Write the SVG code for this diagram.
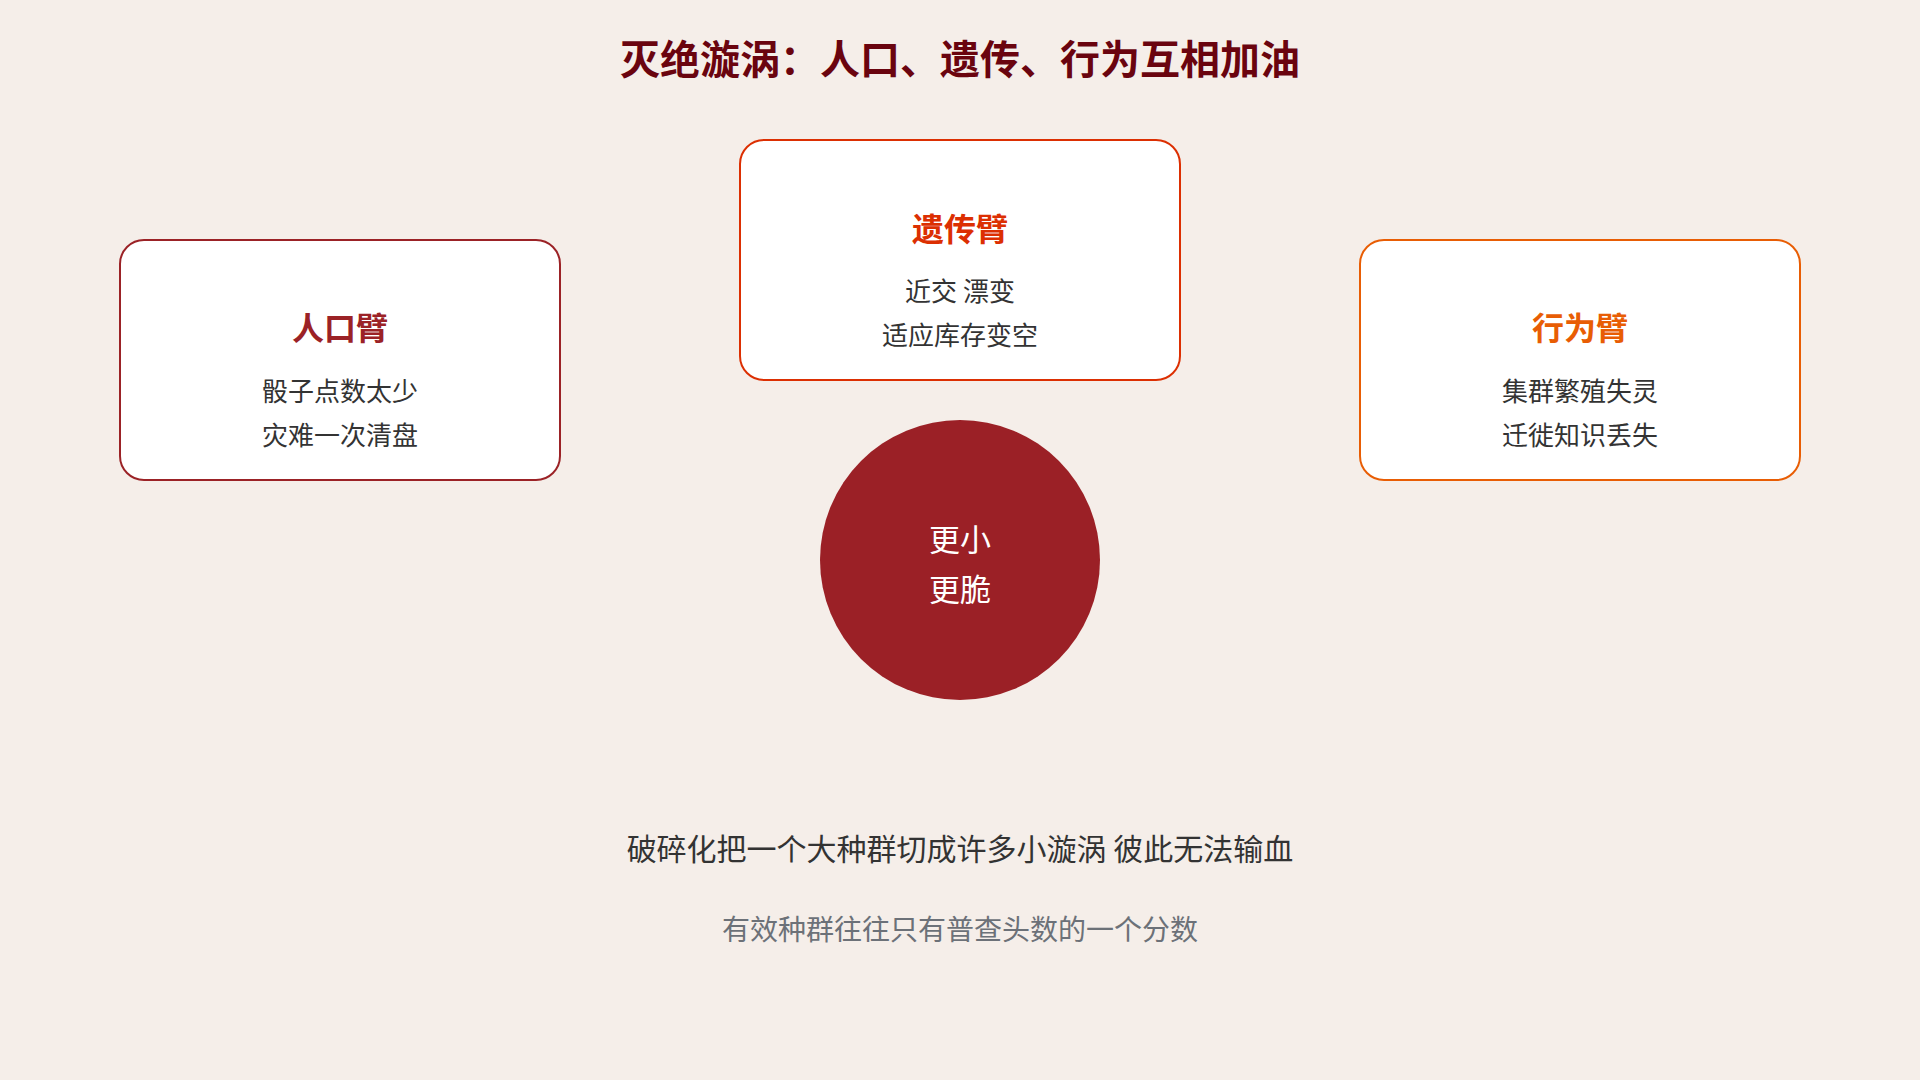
<svg xmlns="http://www.w3.org/2000/svg" width="1920" height="1080" viewBox="0 0 1920 1080">
<style>
text{font-family:"Noto Sans CJK SC","Noto Sans",sans-serif;text-anchor:middle;dominant-baseline:central}
.box{fill:#FFFFFF;stroke-width:2}
.ttl{font-size:32px;font-weight:700}
.body{font-size:26px;fill:#333333}
</style>
<rect x="0" y="0" width="1920" height="1080" fill="#F5EEE9"/>
<text x="960" y="57" style="font-size:40px;font-weight:700;fill:#6A040F">灭绝漩涡：人口、遗传、行为互相加油</text>
<g id="connectors"/>
<g id="node-population">
<rect class="box" x="120" y="240" width="440" height="240" rx="24" stroke="#9B2226"/>
<text class="ttl" x="340" y="326" fill="#9B2226">人口臂</text>
<text class="body" x="340" y="389">骰子点数太少</text>
<text class="body" x="340" y="433">灾难一次清盘</text>
</g>
<g id="node-genetic">
<rect class="box" x="740" y="140" width="440" height="240" rx="24" stroke="#DC2F02"/>
<text class="ttl" x="960" y="227" fill="#DC2F02">遗传臂</text>
<text class="body" x="960" y="289">近交 漂变</text>
<text class="body" x="960" y="333">适应库存变空</text>
</g>
<g id="node-behavior">
<rect class="box" x="1360" y="240" width="440" height="240" rx="24" stroke="#E85D04"/>
<text class="ttl" x="1580" y="326" fill="#E85D04">行为臂</text>
<text class="body" x="1580" y="389">集群繁殖失灵</text>
<text class="body" x="1580" y="433">迁徙知识丢失</text>
</g>
<g id="node-core">
<circle cx="960" cy="560" r="140" fill="#9B2026"/>
<text x="960" y="537" style="font-size:31px;fill:#FFFFFF">更小</text>
<text x="960" y="587" style="font-size:31px;fill:#FFFFFF">更脆</text>
</g>
<g id="notes">
<text x="960" y="847" style="font-size:30px;fill:#333333">破碎化把一个大种群切成许多小漩涡 彼此无法输血</text>
<text x="960" y="928" style="font-size:28px;fill:#6C7178">有效种群往往只有普查头数的一个分数</text>
</g>
</svg>
